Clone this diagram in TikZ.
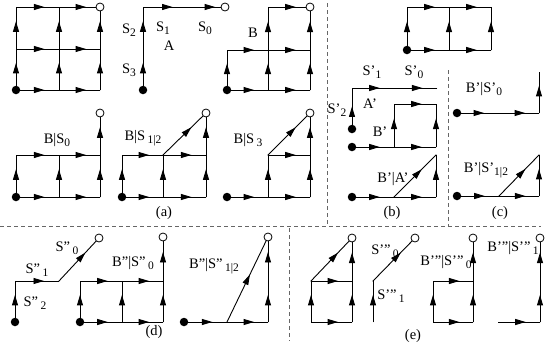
\documentclass[tikz,border=0pt]{standalone}
\usepackage{fontspec}
\setmainfont{Liberation Serif}
\usetikzlibrary{arrows.meta,decorations.markings}
\newcommand\sbx[1]{\raisebox{-0.5ex}{\fontsize{11.5}{11.5}\selectfont #1}}
\begin{document}
\begin{tikzpicture}[x=1pt,y=-1pt,
  edge/.style={line width=0.9pt,line cap=rect,postaction={decorate},
    decoration={markings,mark=at position #1 with {\arrow{Triangle[length=10.5pt,width=6pt]}}}},
  edge/.default=0.66,
  dot/.style={circle,fill=black,inner sep=0pt,minimum size=8.5pt},
  ring/.style={circle,draw=black,fill=white,line width=0.8pt,inner sep=0pt,minimum size=8pt},
  lab/.style={font=\fontsize{14.5}{14.5}\selectfont,inner sep=0pt},
  sep/.style={draw=black!60,line width=0.9pt,dash pattern=on 4pt off 3pt}]
\useasboundingbox (0,0) rectangle (550,346);
% separators
\coordinate (h0) at (0,226.5); \coordinate (h1) at (541,226.5);
\coordinate (v0) at (327,3); \coordinate (v1) at (327,226.5);
\coordinate (w0) at (448,70); \coordinate (w1) at (448,226.5);
\coordinate (u0) at (289,228); \coordinate (u1) at (289,341);
\draw[sep] (h0) -- (h1); \draw[sep] (v0) -- (v1); \draw[sep] (w0) -- (w1); \draw[sep] (u0) -- (u1);
% ---------- (a) top-left grid
\coordinate (a00) at (16,90); \coordinate (a10) at (59,90); \coordinate (a20) at (100,90);
\coordinate (a01) at (16,49); \coordinate (a11) at (59,49); \coordinate (a21) at (100,49);
\coordinate (a02) at (16,7); \coordinate (a12) at (59,7); \coordinate (a22) at (100,7);
\foreach \p/\q in {a00/a10,a10/a20,a01/a11,a11/a21,a02/a12,a12/a22,a00/a01,a01/a02,a10/a11,a11/a12,a20/a21,a21/a22}
  \draw[edge] (\p) -- (\q);
\node[dot] (a00d) at (a00) {}; \node[ring] (a22r) at (a22) {};
% A path
\coordinate (A0) at (143,90); \coordinate (A1) at (143,49); \coordinate (A2) at (143,7);
\coordinate (A3) at (184,7); \coordinate (A4) at (225,7);
\foreach \p/\q in {A0/A1,A1/A2} \draw[edge] (\p) -- (\q);
\draw[edge=0.72] (A2) -- (A3); \draw[edge=0.76] (A3) -- (A4);
\node[dot] (A0d) at (A0) {}; \node[ring] (A4r) at (A4) {};
\node[lab] (lS2) at (129,30) {S\sbx{2}};
\node[lab] (lS3) at (129,70) {S\sbx{3}};
\node[lab] (lS1) at (163,28) {S\sbx{1}};
\node[lab] (lA) at (169,46) {A};
\node[lab] (lS0) at (205,28) {S\sbx{0}};
% B grid
\coordinate (b00) at (227,90); \coordinate (b10) at (268,90); \coordinate (b20) at (310,90);
\coordinate (b01) at (227,50); \coordinate (b11) at (268,50); \coordinate (b21) at (310,50);
\coordinate (b12) at (268,7); \coordinate (b22) at (310,7);
\foreach \p/\q in {b00/b10,b10/b20,b01/b11,b11/b21,b12/b22,b00/b01,b10/b11,b11/b12,b20/b21,b21/b22}
  \draw[edge] (\p) -- (\q);
\node[dot] (b00d) at (b00) {}; \node[ring] (b22r) at (b22) {};
\node[lab] (lB) at (253,33) {B};
% B|S0
\coordinate (c00) at (16,197); \coordinate (c10) at (59,197); \coordinate (c20) at (100,197);
\coordinate (c01) at (16,155); \coordinate (c11) at (59,155); \coordinate (c21) at (100,155);
\coordinate (c22) at (100,113);
\foreach \p/\q in {c00/c10,c10/c20,c01/c11,c11/c21,c00/c01,c10/c11,c20/c21,c21/c22}
  \draw[edge] (\p) -- (\q);
\node[dot] (c00d) at (c00) {}; \node[ring] (c22r) at (c22) {};
\node[lab] (lBS0) at (57,140) {B|S\sbx{0}};
% B|S12
\coordinate (d00) at (122,197); \coordinate (d10) at (163,197); \coordinate (d20) at (206,197);
\coordinate (d01) at (122,155); \coordinate (d11) at (163,155); \coordinate (d21) at (206,155);
\coordinate (d22) at (206,113);
\foreach \p/\q in {d00/d10,d10/d20,d01/d11,d11/d21,d00/d01,d10/d11,d20/d21,d21/d22,d11/d22}
  \draw[edge] (\p) -- (\q);
\node[dot] (d00d) at (d00) {}; \node[ring] (d22r) at (d22) {};
\node[lab] (lBS12) at (143,138) {B|S\,\sbx{1|2}};
% B|S3
\coordinate (e00) at (227,197); \coordinate (e10) at (268,197); \coordinate (e20) at (310,197);
\coordinate (e11) at (268,155); \coordinate (e21) at (310,155); \coordinate (e22) at (310,113);
\foreach \p/\q in {e00/e10,e10/e20,e11/e21,e10/e11,e20/e21,e21/e22,e11/e22}
  \draw[edge] (\p) -- (\q);
\node[dot] (e00d) at (e00) {}; \node[ring] (e22r) at (e22) {};
\node[lab] (lBS3) at (248,140) {B|S\,\sbx{3}};
\node[lab] (la) at (164,213) {(a)};
% ---------- top-right grid
\coordinate (f00) at (407,50); \coordinate (f10) at (449,50); \coordinate (f20) at (491,50);
\coordinate (f01) at (407,7); \coordinate (f11) at (449,7); \coordinate (f21) at (491,7);
\foreach \p/\q in {f00/f10,f10/f20,f01/f11,f11/f21,f00/f01,f10/f11,f20/f21}
  \draw[edge] (\p) -- (\q);
\node[dot] (f00d) at (f00) {};
% ---------- (b)
\coordinate (g0) at (352,129); \coordinate (g1) at (352,88); \coordinate (g2) at (394,88); \coordinate (g3) at (437,88);
\draw[edge=0.55] (g0) -- (g1);
\foreach \p/\q in {g1/g2,g2/g3} \draw[edge] (\p) -- (\q);
\node[dot] (g0d) at (g0) {};
\node[lab] (lSp1) at (372,72) {S’\sbx{1}};
\node[lab] (lSp0) at (414,72) {S’\sbx{0}};
\node[lab] (lSp2) at (337,110) {S’\sbx{2}};
\node[lab] (lAp) at (370,104) {A’};
\coordinate (k0b) at (352,147); \coordinate (k1b) at (394,147); \coordinate (k2b) at (436,147);
\coordinate (k3b) at (394,104); \coordinate (k4b) at (436,104);
\foreach \p/\q in {k0b/k1b,k1b/k2b,k1b/k3b,k3b/k4b,k2b/k4b} \draw[edge] (\p) -- (\q);
\node[dot] (k0bd) at (k0b) {};
\node[lab] (lBp) at (380,132) {B’};
\coordinate (i0) at (352,197); \coordinate (i1) at (394,197); \coordinate (i2) at (436,197); \coordinate (i3) at (436,155);
\foreach \p/\q in {i0/i1,i1/i2,i2/i3,i1/i3} \draw[edge] (\p) -- (\q);
\node[dot] (i0d) at (i0) {};
\node[lab] (lBA) at (393,179) {B’|A’};
\node[lab] (lb) at (392,213) {(b)};
% ---------- (c)
\coordinate (j0) at (457,113); \coordinate (j1) at (498,113); \coordinate (j2) at (539,113); \coordinate (j3) at (539,72);
\foreach \p/\q in {j0/j1,j1/j2,j2/j3} \draw[edge] (\p) -- (\q);
\node[dot] (j0d) at (j0) {};
\node[lab] (lBpS0) at (484,89) {B’|S’\sbx{0}};
\coordinate (k0) at (457,196); \coordinate (k1) at (499,196); \coordinate (k2) at (539,196); \coordinate (k3) at (539,155);
\foreach \p/\q in {k0/k1,k1/k2,k2/k3,k1/k3} \draw[edge] (\p) -- (\q);
\node[dot] (k0d) at (k0) {};
\node[lab] (lBpS12) at (486,170) {B’|S’\sbx{1|2}};
\node[lab] (lc) at (500,213) {(c)};
% ---------- (d)
\coordinate (l0) at (15,322); \coordinate (l1) at (15,281); \coordinate (l2) at (59,281); \coordinate (l3) at (99,238);
\foreach \p/\q in {l0/l1,l1/l2,l2/l3} \draw[edge] (\p) -- (\q);
\node[dot] (l0d) at (l0) {}; \node[ring] (l3r) at (l3) {};
\node[lab] (lSd0) at (67,248) {S"\,\sbx{0}};
\node[lab] (lSd1) at (37,270) {S"\,\sbx{1}};
\node[lab] (lSd2) at (35,303) {S"\,\sbx{2}};
\coordinate (m00) at (80,322); \coordinate (m10) at (122,322); \coordinate (m20) at (163,322);
\coordinate (m01) at (80,281); \coordinate (m11) at (122,281); \coordinate (m21) at (163,281);
\coordinate (m22) at (163,237);
\foreach \p/\q in {m00/m10,m10/m20,m01/m11,m11/m21,m00/m01,m10/m11,m20/m21,m21/m22}
  \draw[edge] (\p) -- (\q);
\node[dot] (m00d) at (m00) {}; \node[ring] (m22r) at (m22) {};
\node[lab] (lBdS0) at (133,263) {B"|S"\,\sbx{0}};
\coordinate (n0) at (184,322); \coordinate (n1) at (227,322); \coordinate (n2) at (268,322);
\coordinate (n3) at (268,281); \coordinate (n4) at (268,237);
\foreach \p/\q in {n0/n1,n1/n2,n2/n3,n3/n4} \draw[edge] (\p) -- (\q);
\draw[edge=0.56] (n1) -- (n4);
\node[dot] (n0d) at (n0) {}; \node[ring] (n4r) at (n4) {};
\node[lab] (lBdS12) at (214,266) {B"|S"\,\sbx{1|2}};
\node[lab] (ld) at (154,332) {(d)};
% ---------- (e)
\coordinate (o00) at (311,322); \coordinate (o10) at (352,322); \coordinate (o01) at (311,281);
\coordinate (o11) at (352,281); \coordinate (o12) at (352,238);
\foreach \p/\q in {o00/o10,o00/o01,o10/o11,o01/o11,o11/o12,o01/o12} \draw[edge] (\p) -- (\q);
\node[ring] (o12r) at (o12) {};
\coordinate (p0) at (373,322); \coordinate (p1) at (373,281); \coordinate (p2) at (415,238);
\foreach \p/\q in {p0/p1,p1/p2} \draw[edge] (\p) -- (\q);
\node[ring] (p2r) at (p2) {};
\node[lab] (lSt0) at (385,251) {S’"\,\sbx{0}};
\node[lab] (lSt1) at (391,296) {S’"\,\sbx{1}};
\coordinate (q00) at (433,322); \coordinate (q10) at (473,322); \coordinate (q01) at (433,281);
\coordinate (q11) at (473,281); \coordinate (q12) at (473,238);
\foreach \p/\q in {q00/q10,q00/q01,q10/q11,q01/q11,q11/q12} \draw[edge] (\p) -- (\q);
\node[ring] (q12r) at (q12) {};
\node[lab] (lBtS0) at (446,262) {B’"|S’"\,\sbx{0}};
\coordinate (r0) at (498,322); \coordinate (r1) at (540,322); \coordinate (r2) at (540,281); \coordinate (r3) at (540,238);
\foreach \p/\q in {r0/r1,r1/r2,r2/r3} \draw[edge] (\p) -- (\q);
\node[ring] (r3r) at (r3) {};
\node[lab] (lBtS1) at (513,248) {B’"|S’"\,\sbx{1}};
\node[lab] (le) at (413,336) {(e)};
\end{tikzpicture}
\end{document}
